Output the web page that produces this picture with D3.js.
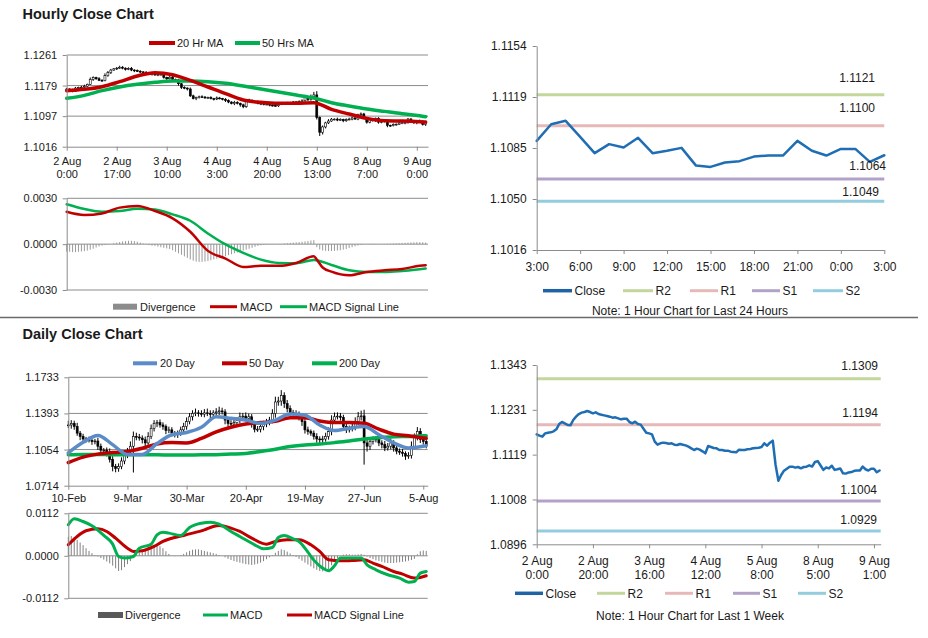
<!DOCTYPE html>
<html><head><meta charset="utf-8">
<script src="https://cdn.jsdelivr.net/npm/d3@7/dist/d3.min.js"></script>
<style>html,body{margin:0;padding:0;background:#fff;}svg{display:block;}</style>
</head><body>
<svg id="chart" width="928" height="638"></svg>
<script>
// ================= DATA =================
// Hourly closes, 2 Aug 0:00 .. 9 Aug 3:00 (123 hours)
const hourlyClose = [
1.11702,1.11668,1.11643,1.11726,1.11743,1.11751,1.11776,1.11826,1.11959,1.12009,
1.11976,1.11934,1.11926,1.12059,1.12142,1.12208,1.12242,1.12258,1.12283,1.12258,
1.12225,1.12250,1.12208,1.12192,1.12175,1.12159,1.12142,1.12117,1.12125,1.12100,
1.12076,1.12092,1.12092,1.12009,1.11976,1.12017,1.11959,1.11943,1.11843,1.11743,
1.11726,1.11702,1.11519,1.11444,1.11477,1.11494,1.11485,1.11469,1.11477,1.11444,
1.11436,1.11461,1.11444,1.11427,1.11394,1.11353,1.11311,1.11344,1.11319,1.11278,
1.11228,1.11411,1.11386,1.11361,1.11353,1.11311,1.11311,1.11294,1.11294,1.11269,
1.11261,1.11253,1.11319,1.11311,1.11311,1.11328,1.11336,1.11353,1.11361,1.11369,
1.11386,1.11477,1.11419,1.11494,1.11544,1.10937,1.10546,1.10688,1.10796,1.10846,
1.10896,1.10896,1.10871,1.10887,1.10854,1.10887,1.10896,1.10929,
1.10898,1.11011,1.11034,1.10925,1.10815,1.10876,1.10853,1.10919,1.10815,1.10831,
1.10851,1.10731,1.10722,1.10752,1.10761,1.10792,1.10799,1.10799,1.10898,1.10831,
1.10799,1.10844,1.10844,1.10756,1.10801];
// hourly wick extents beyond the candle body, in pips
const hourlyWickUpPips = [
3,2,4,3,2,3,4,2,5,3,2,4,3,6,4,3,2,3,4,3,
2,3,4,2,3,3,2,4,3,2,3,2,4,3,2,3,4,2,3,2,
3,2,4,3,2,3,4,3,2,3,2,4,3,2,3,3,2,4,3,2,
3,2,3,4,2,3,2,3,4,2,3,2,3,2,4,3,2,3,2,3,
4,5,3,6,8,10,3,4,3,5,3,2,4,3,2,3,4,3,2,3,
4,3,2,3,4,2,3,2,3,4,2,3,2,3,4,2,3,3,2,3,4,2,3];
const hourlyWickDnPips = [
2,3,3,2,4,2,3,3,2,4,3,2,3,2,3,4,2,3,2,3,
3,2,3,4,2,3,3,2,3,4,2,3,2,3,4,2,3,3,5,4,
3,4,3,2,4,3,2,3,3,2,4,3,2,3,4,3,2,4,3,5,
4,3,2,3,3,2,4,3,2,3,3,2,3,4,2,3,3,2,3,2,
3,2,4,3,2,5,10,6,4,3,2,3,3,2,4,3,2,3,2,3,
3,2,4,3,2,3,4,3,2,5,3,2,3,2,3,4,2,3,3,4,2,3,4];
const hourlyTickIdx = [0,17,34,51,68,85,102,119];
const hourlyTickLabels = [["2 Aug","0:00"],["2 Aug","17:00"],["3 Aug","10:00"],["4 Aug","3:00"],
  ["4 Aug","20:00"],["5 Aug","13:00"],["8 Aug","7:00"],["9 Aug","0:00"]];
const hourlyPriceLabels = ["1.1016","1.1097","1.1179","1.1261"];
const hourlyMaIdx = [0,6,12,18,24,30,36,42,48,54,60,66,72,78,84,90,96,102,108,114,120,122];
const hourlyMa20 = [1.11657,1.11692,1.11763,1.11897,1.12049,1.12138,1.12084,1.11933,1.11755,1.11576,1.11407,
  1.11345,1.11318,1.11318,1.11336,1.11158,1.11033,1.10917,1.10855,1.10846,1.10828,1.10819];
const hourlyMa50 = [1.11452,1.11532,1.11657,1.11755,1.11826,1.11879,1.11915,1.11915,1.11897,1.11853,1.11781,
  1.11701,1.11621,1.11541,1.11461,1.11336,1.11247,1.11167,1.11104,1.11042,1.10989,1.10962];
const hourlyMacdIdx = [0,6,12,18,24,30,36,42,48,54,60,66,72,78,84,85,87,90,96,102,108,114,120,122];
const hourlyMacd = [0.00212,0.00191,0.00201,0.00239,0.00250,0.00217,0.00169,0.00081,-0.00044,-0.00094,-0.00149,
  -0.00142,-0.00142,-0.00123,-0.00079,-0.00101,-0.00153,-0.00180,-0.00204,-0.00182,-0.00171,-0.00162,-0.00142,-0.00138];
const hourlySignalIdx = [0,6,12,18,24,30,36,42,48,54,60,66,72,78,84,90,96,102,108,114,120,122];
const hourlySignal = [0.00261,0.00230,0.00212,0.00217,0.00232,0.00226,0.00195,0.00153,0.00070,-0.00002,-0.00057,
  -0.00101,-0.00123,-0.00125,-0.00103,-0.00136,-0.00171,-0.00182,-0.00182,-0.00175,-0.00164,-0.00160];
const hourlyDivergence = [
-0.00049,-0.00050,-0.00052,-0.00052,-0.00050,-0.00048,-0.00046,-0.00042,-0.00036,-0.00030,
-0.00022,-0.00015,-0.00010,-0.00006,-0.00003,0.00000,
0.00005,0.00010,0.00014,0.00018,0.00020,0.00022,0.00022,0.00020,0.00016,0.00010,
0.00004,-0.00002,-0.00006,-0.00010,-0.00012,
-0.00016,-0.00020,-0.00024,-0.00028,-0.00032,-0.00040,-0.00050,-0.00060,
-0.00070,-0.00080,-0.00090,-0.00100,-0.00108,-0.00114,-0.00116,-0.00116,-0.00114,-0.00110,-0.00105,-0.00100,
-0.00095,-0.00090,-0.00084,-0.00078,-0.00072,-0.00066,-0.00060,-0.00054,-0.00048,-0.00042,-0.00036,-0.00030,-0.00024,-0.00018,-0.00012,
-0.00008,-0.00005,-0.00003,-0.00002,-0.00001,0.00000,0.00001,
0.00002,0.00004,0.00006,0.00008,0.00010,0.00012,0.00014,0.00016,0.00018,0.00020,0.00024,0.00026,
-0.00020,-0.00035,-0.00042,-0.00044,-0.00045,-0.00045,-0.00044,-0.00042,-0.00040,-0.00036,-0.00032,-0.00026,-0.00020,
-0.00014,-0.00009,-0.00005,-0.00002,0.00000,0.00001,0.00002,0.00001,0.00001,0.00000,0.00001,0.00002,0.00003,
0.00004,0.00005,0.00006,0.00008,0.00009,0.00010,0.00011,0.00012,0.00013,0.00013,0.00012,0.00011];
const hourlyMacdLabels = ["-0.0030","0.0000","0.0030"];

// Daily closes (122 sessions, 10-Feb .. Aug)
const dailyClose = [
1.1285,1.1300,1.1270,1.1208,1.1177,1.1153,1.1146,1.1140,1.1128,1.1134,
1.1085,1.1048,1.1048,1.1029,1.0962,1.0894,1.0875,1.0894,1.0946,1.1008,
1.1039,1.1085,1.1177,1.1171,1.1162,1.1146,1.1116,1.1177,1.1254,1.1300,
1.1307,1.1285,1.1270,1.1233,1.1239,1.1208,1.1193,1.1208,1.1239,1.1270,
1.1316,1.1362,1.1393,1.1399,1.1393,1.1387,1.1399,1.1393,1.1384,1.1399,
1.1408,1.1417,1.1408,1.1331,1.1300,1.1294,1.1307,1.1325,1.1362,1.1368,
1.1347,1.1362,1.1300,1.1245,1.1245,1.1270,1.1294,1.1307,1.1331,1.1393,
1.1501,1.1510,1.1562,1.1485,1.1439,1.1402,1.1393,1.1387,1.1362,1.1316,
1.1239,1.1223,1.1208,1.1177,1.1153,1.1146,1.1153,1.1177,1.1223,1.1331,
1.1362,1.1368,1.1356,1.1270,1.1239,1.1254,1.1270,1.1316,1.1362,1.1370,
1.1116,1.1085,1.1131,1.1146,1.1153,1.1116,1.1100,1.1069,1.1085,1.1116,
1.1069,1.1039,1.1029,1.1017,1.0992,1.0999,1.1085,1.1170,1.1225,1.1150,1.1130,1.1090];
const dailyWickUpPips = [
40,30,25,35,20,25,20,30,25,20,30,25,20,25,35,30,25,30,35,40,
30,45,46,35,30,25,30,40,35,30,25,30,25,20,30,25,20,25,30,35,
40,35,30,40,25,30,35,40,30,25,35,40,30,25,20,30,25,35,40,30,
35,30,25,20,30,25,30,35,30,40,50,40,50,30,35,30,25,30,25,30,
25,30,20,25,30,25,30,35,40,45,40,35,30,25,30,25,35,40,45,50,
58,30,35,30,25,30,25,35,30,40,25,30,25,30,20,30,45,35,40,30,25,30];
const dailyWickDnPips = [
30,35,30,25,35,30,25,20,30,25,35,30,25,40,30,45,35,30,25,30,
35,30,247,30,25,35,40,30,25,30,35,25,30,35,25,30,25,30,25,20,
30,25,35,25,30,25,30,25,35,30,25,30,25,40,35,30,25,30,25,30,
30,35,40,30,25,30,35,30,25,30,40,35,45,40,35,30,25,30,35,40,
35,30,25,30,35,40,30,25,30,35,30,25,30,35,30,25,30,35,30,35,
204,50,35,30,25,30,35,30,25,30,35,30,25,30,35,25,30,25,30,35,30,25];
const dailyTickIdx = [0,20,40,60,80,100,120];
const dailyTickLabels = ["10-Feb","9-Mar","30-Mar","20-Apr","19-May","27-Jun","5-Aug"];
const dailyPriceLabels = ["1.0714","1.1054","1.1393","1.1733"];
const dailyMaIdx = [0,5,10,15,20,25,30,35,40,45,50,55,60,65,70,75,80,85,90,95,100,105,110,115,120,121];
const dailyMa20 = [1.1023,1.1122,1.1186,1.1100,1.1008,1.1008,1.1110,1.1193,1.1214,1.1263,1.1362,1.1347,1.1331,
  1.1300,1.1331,1.1387,1.1377,1.1285,1.1233,1.1254,1.1270,1.1193,1.1116,1.1069,1.1085,1.1091];
const dailyMa50 = [1.0931,1.0983,1.1011,1.1026,1.1036,1.1066,1.1106,1.1119,1.1116,1.1159,1.1220,1.1263,1.1294,
  1.1307,1.1319,1.1353,1.1353,1.1322,1.1307,1.1307,1.1300,1.1245,1.1199,1.1183,1.1162,1.1159];
const dailyMa200 = [1.1005,1.1008,1.1008,1.1005,1.1005,1.1005,1.1005,1.1002,1.1002,1.1005,1.1005,1.1011,1.1017,
  1.1036,1.1057,1.1082,1.1097,1.1106,1.1119,1.1134,1.1153,1.1165,1.1174,1.1177,1.1183,1.1183];
const dailyMacdIdx = [0,2,5,8,12,15,17,19,22,24,28,30,32,34,38,41,45,48,51,55,58,63,66,69,71,73,76,78,81,83,86,88,90,92,96,99,101,104,108,112,115,117,119,121];
const dailyMacd = [0.00817,0.00975,0.00904,0.00790,0.00536,0.00307,-0.00018,-0.00061,-0.00018,0.00202,0.00307,
  0.00553,0.00623,0.00597,0.00536,0.00746,0.00860,0.00887,0.00834,0.00641,0.00509,0.00290,0.00184,0.00220,
  0.00483,0.00536,0.00448,0.00378,0.00097,-0.00114,-0.00325,-0.00395,-0.00263,-0.00061,-0.00061,-0.00061,
  -0.00237,-0.00369,-0.00500,-0.00588,-0.00694,-0.00676,-0.00457,-0.00413];
const dailySignalIdx = [0,3,6,10,13,16,20,22,25,29,32,36,39,42,46,49,51,55,58,62,67,70,74,78,82,85,88,92,96,100,103,106,110,113,117,119,121];
const dailySignal = [0.00290,0.00509,0.00659,0.00711,0.00641,0.00465,0.00202,0.00114,0.00132,0.00246,0.00378,
  0.00483,0.00536,0.00597,0.00685,0.00773,0.00799,0.00729,0.00641,0.00465,0.00307,0.00378,0.00421,0.00421,
  0.00290,0.00114,-0.00105,-0.00132,-0.00123,-0.00105,-0.00193,-0.00281,-0.00413,-0.00483,-0.00588,-0.00571,-0.00527];
const dailyDivergence = [
0.0050,0.0052,0.0048,0.0042,0.0035,0.0028,0.0020,0.0013,0.0007,0.0002,-0.0002,
-0.0006,-0.0010,-0.0015,-0.0020,-0.0026,-0.0033,-0.0040,-0.0038,-0.0030,-0.0022,-0.0014,-0.0006,
0.0003,0.0008,0.0013,0.0018,0.0023,0.0027,0.0029,0.0028,0.0025,0.0020,0.0012,
0.0005,0.0000,-0.0001,0.0000,0.0002,0.0005,0.0009,0.0013,0.0016,0.0017,0.0017,0.0015,0.0013,0.0011,0.0009,0.0007,0.0005,0.0002,0.0000,
-0.0004,-0.0008,-0.0011,-0.0014,-0.0016,-0.0018,-0.0020,-0.0022,-0.0023,-0.0024,-0.0023,-0.0021,-0.0018,-0.0014,-0.0009,-0.0004,
0.0002,0.0008,0.0013,0.0017,0.0015,0.0011,0.0006,0.0002,
-0.0003,-0.0008,-0.0013,-0.0018,-0.0023,-0.0028,-0.0033,-0.0037,-0.0040,-0.0041,-0.0040,-0.0035,-0.0025,-0.0015,
-0.0007,0.0000,0.0003,0.0004,0.0004,0.0003,0.0003,0.0004,0.0005,0.0003,-0.0002,
-0.0006,-0.0009,-0.0012,-0.0014,-0.0016,-0.0018,-0.0019,-0.0019,-0.0019,-0.0018,-0.0017,-0.0016,-0.0015,-0.0013,-0.0011,-0.0008,
0.0004,0.0012,0.0014,0.0013];
const dailyMacdLabels = ["-0.0112","0.0000","0.0112"];

// Pivot levels (R2, R1, S1, S2)
const levelNames = ["R2","R1","S1","S2"];
const dayLevels = [1.1121, 1.1100, 1.1064, 1.1049];
const weekLevels = [1.1309, 1.1194, 1.1004, 1.0929];
const dayStartIdx = 98; // last 24 hours of the hourly series
const dayTickIdx = [0,3,6,9,12,15,18,21,24];
const dayTickLabels = ["3:00","6:00","9:00","12:00","15:00","18:00","21:00","0:00","3:00"];
const dayPriceLabels = ["1.1016","1.1050","1.1085","1.1119","1.1154"];
const weekTickIdx = [0,20,40,60,80,100,120];
const weekTickLabels = [["2 Aug","0:00"],["2 Aug","20:00"],["3 Aug","16:00"],["4 Aug","12:00"],
  ["5 Aug","8:00"],["8 Aug","5:00"],["9 Aug","1:00"]];
const weekPriceLabels = ["1.0896","1.1008","1.1119","1.1231","1.1343"];

// ================= DRAWING =================
const FONT = '"Liberation Sans", Arial, sans-serif';
const GRID = "#8c8c8c", TXT = "#1a1a1a";
const RED = "#C00000", GREEN = "#00B050", BLUE = "#5B8CC8", CLOSE = "#1F6EB4";
const levelColors = ["#C3D69B","#E6B9B8","#B3A2C7","#93CDDD"];
const svg = d3.select("#chart").attr("font-family", FONT);

function evenTicks(scale, n) {
  const [a, b] = scale.domain();
  return d3.range(n).map(k => a + k * (b - a) / (n - 1));
}
function styleAxis(g, size) {
  g.attr("font-family", FONT).attr("font-size", size);
  g.selectAll("path,line").attr("stroke", GRID).attr("stroke-width", 1);
  g.selectAll("text").attr("fill", TXT);
}
function multiLine(g, labels, size, gap) {
  g.selectAll(".tick text").each(function(d, i) {
    const t = d3.select(this); t.text(null);
    labels[i].forEach((s, j) => t.append("tspan").attr("x", 0).attr("dy", j ? gap : "0.71em").text(s));
  });
}
function hGrid(x, y, vals) {
  svg.append("g").selectAll("line").data(vals).join("line")
    .attr("x1", x.range()[0]).attr("x2", x.range()[1])
    .attr("y1", d => y(d)).attr("y2", d => y(d))
    .attr("stroke", GRID).attr("stroke-width", 1);
}
function yAxisLeft(x, y, labels, size, pad) {
  const vals = evenTicks(y, labels.length);
  const g = svg.append("g").attr("transform", `translate(${x.range()[0]},0)`)
    .call(d3.axisLeft(y).tickValues(vals).tickFormat((d, i) => labels[i]).tickSize(4).tickSizeOuter(0).tickPadding(pad));
  styleAxis(g, size);
  return vals;
}
function xAxisBottom(x, yPos, idx, labels, size, pad, gap) {
  const g = svg.append("g").attr("transform", `translate(0,${yPos})`)
    .call(d3.axisBottom(x).tickValues(idx).tickFormat((d, i) => Array.isArray(labels[i]) ? labels[i][0] : labels[i])
      .tickSize(4).tickSizeOuter(0).tickPadding(pad));
  styleAxis(g, size);
  if (Array.isArray(labels[0])) multiLine(g, labels, size, gap);
}
function seriesLine(x, y, idx, vals, color, w, curve) {
  svg.append("path").datum(idx.map((d, k) => [d, vals[k]]))
    .attr("d", d3.line().x(d => x(d[0])).y(d => y(d[1])).curve(curve || d3.curveMonotoneX))
    .attr("fill", "none").attr("stroke", color).attr("stroke-width", w)
    .attr("stroke-linejoin", "round").attr("stroke-linecap", "round");
}
function candles(x, y, close, up, dn, bw) {
  const g = svg.append("g");
  close.forEach((c, i) => {
    const o = i ? close[i - 1] : c;
    const hi = Math.max(o, c) + up[i] * 1e-4, lo = Math.min(o, c) - dn[i] * 1e-4;
    const px = x(i);
    g.append("line").attr("x1", px).attr("x2", px).attr("y1", y(hi)).attr("y2", y(lo))
      .attr("stroke", "#000").attr("stroke-width", 1);
    const top = y(Math.max(o, c)), bot = y(Math.min(o, c));
    g.append("rect").attr("x", px - bw / 2).attr("y", top).attr("width", bw)
      .attr("height", Math.max(bot - top, 0.8))
      .attr("fill", c >= o ? "#fff" : "#000").attr("stroke", "#000").attr("stroke-width", 0.6);
  });
}
function bars(x, y, vals, color) {
  svg.append("g").selectAll("line").data(vals).join("line")
    .attr("x1", (d, i) => x(i)).attr("x2", (d, i) => x(i))
    .attr("y1", y(0)).attr("y2", d => y(d))
    .attr("stroke", color).attr("stroke-width", 1);
}
function legLine(x1, x2, y, color, w) {
  svg.append("line").attr("x1", x1).attr("x2", x2).attr("y1", y).attr("y2", y)
    .attr("stroke", color).attr("stroke-width", w);
}
function legRect(x1, x2, y, color) {
  svg.append("rect").attr("x", x1).attr("y", y - 3).attr("width", x2 - x1).attr("height", 6).attr("fill", color);
}
function label(x, y, s, size, anchor, weight) {
  svg.append("text").attr("x", x).attr("y", y).attr("font-size", size)
    .attr("text-anchor", anchor || "start").attr("font-weight", weight || "normal")
    .attr("fill", TXT).text(s);
}
const fmt4 = d3.format(".4f");

// ---------- Titles & separator ----------
label(22.5, 18.5, "Hourly Close Chart", 14.5, "start", "bold");
label(22.5, 338.5, "Daily Close Chart", 14.5, "start", "bold");
svg.append("line").attr("x1", 0).attr("x2", 918).attr("y1", 317.5).attr("y2", 317.5)
  .attr("stroke", "#6a6a6a").attr("stroke-width", 1.5);

// ---------- Hourly price (top-left) ----------
{
  const x = d3.scaleLinear().domain([0, 122.8]).range([66.7, 428]);
  const y = d3.scaleLinear().domain([1.1016, 1.1261]).range([146.7, 55]);
  hGrid(x, y, evenTicks(y, hourlyPriceLabels.length).slice(1));
  candles(x, y, hourlyClose, hourlyWickUpPips, hourlyWickDnPips, 2);
  seriesLine(x, y, hourlyMaIdx, hourlyMa50, GREEN, 3.5);
  seriesLine(x, y, hourlyMaIdx, hourlyMa20, RED, 3.5);
  yAxisLeft(x, y, hourlyPriceLabels, 11, 5.5);
  xAxisBottom(x, 146.7, hourlyTickIdx, hourlyTickLabels, 11, 7, "1.15em");
  legLine(149, 175, 43, RED, 4); label(177, 47, "20 Hr MA", 11);
  legLine(235, 260, 43, GREEN, 4); label(262, 47, "50 Hrs MA", 11);
}
// ---------- Hourly MACD ----------
{
  const x = d3.scaleLinear().domain([0, 122.8]).range([66.7, 428]);
  const y = d3.scaleLinear().domain([-0.003, 0.003]).range([290, 198.3]);
  hGrid(x, y, [-0.003, 0.003]);
  bars(x, y, hourlyDivergence, "#9a9a9a");
  hGrid(x, y, [0]);
  seriesLine(x, y, hourlySignalIdx, hourlySignal, GREEN, 2.5);
  seriesLine(x, y, hourlyMacdIdx, hourlyMacd, RED, 2.5);
  yAxisLeft(x, y, hourlyMacdLabels, 11, 5.5);
  legRect(113, 137, 306.7, "#8c8c8c"); label(140, 310.5, "Divergence", 11);
  legLine(210, 237, 306.7, RED, 3); label(240, 310.5, "MACD", 11);
  legLine(280, 307, 306.7, GREEN, 3); label(309, 310.5, "MACD Signal Line", 11);
}
// ---------- Daily price (bottom-left) ----------
{
  const x = d3.scaleLinear().domain([0, 121.5]).range([68.3, 427.7]);
  const y = d3.scaleLinear().domain([1.0714, 1.1733]).range([485.7, 377.3]);
  hGrid(x, y, evenTicks(y, dailyPriceLabels.length).slice(1));
  candles(x, y, dailyClose, dailyWickUpPips, dailyWickDnPips, 2);
  seriesLine(x, y, dailyMaIdx, dailyMa200, GREEN, 3.5);
  seriesLine(x, y, dailyMaIdx, dailyMa50, RED, 3.5);
  seriesLine(x, y, dailyMaIdx, dailyMa20, BLUE, 3.5);
  yAxisLeft(x, y, dailyPriceLabels, 11, 5.5);
  xAxisBottom(x, 485.7, dailyTickIdx, dailyTickLabels, 11, 4.5);
  legLine(133, 157, 363.3, BLUE, 4); label(160, 367, "20 Day", 11);
  legLine(222, 247, 363.3, RED, 4); label(249, 367, "50 Day", 11);
  legLine(312, 337, 363.3, GREEN, 4); label(339, 367, "200 Day", 11);
}
// ---------- Daily MACD ----------
{
  const x = d3.scaleLinear().domain([0, 121.5]).range([68.3, 427.7]);
  const y = d3.scaleLinear().domain([-0.0112, 0.0112]).range([598.3, 513.3]);
  hGrid(x, y, [-0.0112, 0.0112]);
  bars(x, y, dailyDivergence, "#808080");
  hGrid(x, y, [0]);
  seriesLine(x, y, dailySignalIdx, dailySignal, RED, 3);
  seriesLine(x, y, dailyMacdIdx, dailyMacd, GREEN, 3);
  yAxisLeft(x, y, dailyMacdLabels, 11, 5.5);
  legRect(98, 123, 615, "#595959"); label(125, 619, "Divergence", 11);
  legLine(203, 228, 615, GREEN, 3); label(230, 619, "MACD", 11);
  legLine(287, 312, 615, RED, 3); label(314, 619, "MACD Signal Line", 11);
}
// ---------- Right panels ----------
function levelPanel(cfg) {
  const x = d3.scaleLinear().domain(cfg.xDom).range([536.7, cfg.xEnd]);
  const y = d3.scaleLinear().domain(cfg.yDom).range(cfg.yRange);
  cfg.levels.forEach((v, k) => {
    svg.append("line").attr("x1", x.range()[0]).attr("x2", x.range()[1])
      .attr("y1", y(v)).attr("y2", y(v)).attr("stroke", levelColors[k]).attr("stroke-width", 3);
  });
  seriesLine(x, y, d3.range(cfg.close.length), cfg.close, CLOSE, 2.5, d3.curveLinear);
  cfg.levels.forEach((v, k) => label(cfg.lblX[k], y(v) + cfg.lblDy[k], fmt4(v), 12, "end"));
  yAxisLeft(x, y, cfg.yLabels, 12, 6);
  xAxisBottom(x, cfg.yRange[0], cfg.tickIdx, cfg.tickLabels, 12, 8.5, "1.1em");
  const L = cfg.legend;
  legLine(L.close[0], L.close[1], L.y, "#1F63A6", 3.5); label(L.close[1] + 2.5, L.y + 4.3, "Close", 12);
  levelNames.forEach((n, k) => {
    legLine(L.lv[k][0], L.lv[k][1], L.y, levelColors[k], 3);
    label(L.lv[k][1] + 2.5, L.y + 4.3, n, 12);
  });
  label(690, L.noteY, cfg.note, 12, "middle");
}
levelPanel({
  xDom: [0, 24], xEnd: 884.3, yDom: [1.1016, 1.1154], yRange: [250, 46],
  close: hourlyClose.slice(dayStartIdx), levels: dayLevels,
  lblX: [875, 875, 886, 879], lblDy: [-13, -14, -9, -5],
  yLabels: dayPriceLabels, tickIdx: dayTickIdx, tickLabels: dayTickLabels,
  legend: { y: 290.7, close: [543, 572], lv: [[623, 653], [690, 718], [752, 780], [813, 843]], noteY: 315.3 },
  note: "Note: 1 Hour Chart for Last 24 Hours"
});
levelPanel({
  xDom: [0, 122.4], xEnd: 880.7, yDom: [1.0896, 1.1343], yRange: [544.3, 365],
  close: hourlyClose, levels: weekLevels,
  lblX: [878, 878, 877, 877], lblDy: [-8.5, -8, -7, -7],
  yLabels: weekPriceLabels, tickIdx: weekTickIdx, tickLabels: weekTickLabels,
  legend: { y: 593.3, close: [515, 543], lv: [[597, 625], [665, 693], [733, 760], [798, 826]], noteY: 620.3 },
  note: "Note: 1 Hour Chart for Last 1 Week"
});
</script>
</body></html>
